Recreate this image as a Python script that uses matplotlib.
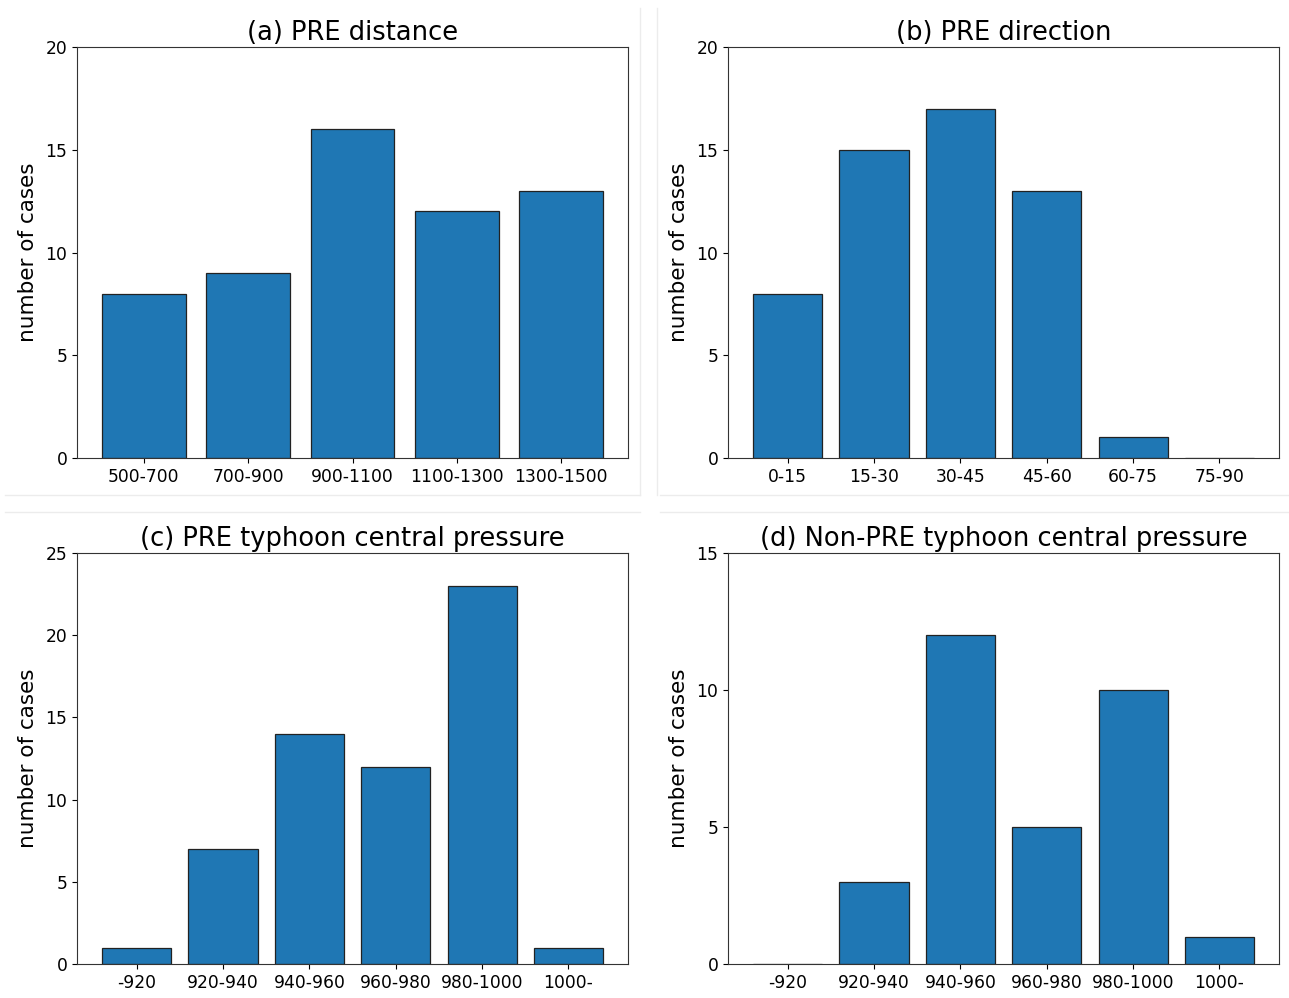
import matplotlib.pyplot as plt
from matplotlib.lines import Line2D

dist_labels = ['500-700', '700-900', '900-1100', '1100-1300', '1300-1500']
dist_counts = [8, 9, 16, 12, 13]

dir_labels = ['0-15', '15-30', '30-45', '45-60', '60-75', '75-90']
dir_counts = [8, 15, 17, 13, 1, 0]

pres_labels = ['-920', '920-940', '940-960', '960-980', '980-1000', '1000-']
pre_pres_counts = [1, 7, 14, 12, 23, 1]
non_pres_counts = [0, 3, 12, 5, 10, 1]

W, H = 1289, 998
fig = plt.figure(figsize=(W / 100, H / 100), dpi=100)

def box(x0, y0, x1, y1):
    return [x0 / W, 1 - y1 / H, (x1 - x0) / W, (y1 - y0) / H]

panels = [
    (box(77, 47, 628, 458), dist_labels, dist_counts, '(a) PRE distance', 20),
    (box(728, 47, 1279, 458), dir_labels, dir_counts, '(b) PRE direction', 20),
    (box(77, 553, 628, 964), pres_labels, pre_pres_counts, '(c) PRE typhoon central pressure', 25),
    (box(728, 553, 1279, 964), pres_labels, non_pres_counts, '(d) Non-PRE typhoon central pressure', 15),
]

for rect, labels, counts, title, ymax in panels:
    ax = fig.add_axes(rect)
    ax.bar(labels, counts, width=0.8, color='#1f77b4', edgecolor='#222222', linewidth=0.9)
    ax.set_ylim(0, ymax)
    ax.set_yticks(range(0, ymax + 1, 5))
    ax.set_title(title, fontsize=18.5, pad=5)
    ax.set_ylabel('number of cases', fontsize=15.5, labelpad=5)
    ax.tick_params(labelsize=12.3)
    for s in ax.spines.values():
        s.set_color('#333333')

# faint borders between the stitched panels
c = '#ececec'
for x in (640, 657):
    fig.add_artist(Line2D([x / W, x / W], [1 - 8 / H, 1 - 495 / H], color=c, lw=1))
for y in (495, 512):
    fig.add_artist(Line2D([5 / W, 640 / W], [1 - y / H, 1 - y / H], color=c, lw=1))
    fig.add_artist(Line2D([660 / W, 1289 / W], [1 - y / H, 1 - y / H], color=c, lw=1))

fig.savefig('out.png', dpi=100)
